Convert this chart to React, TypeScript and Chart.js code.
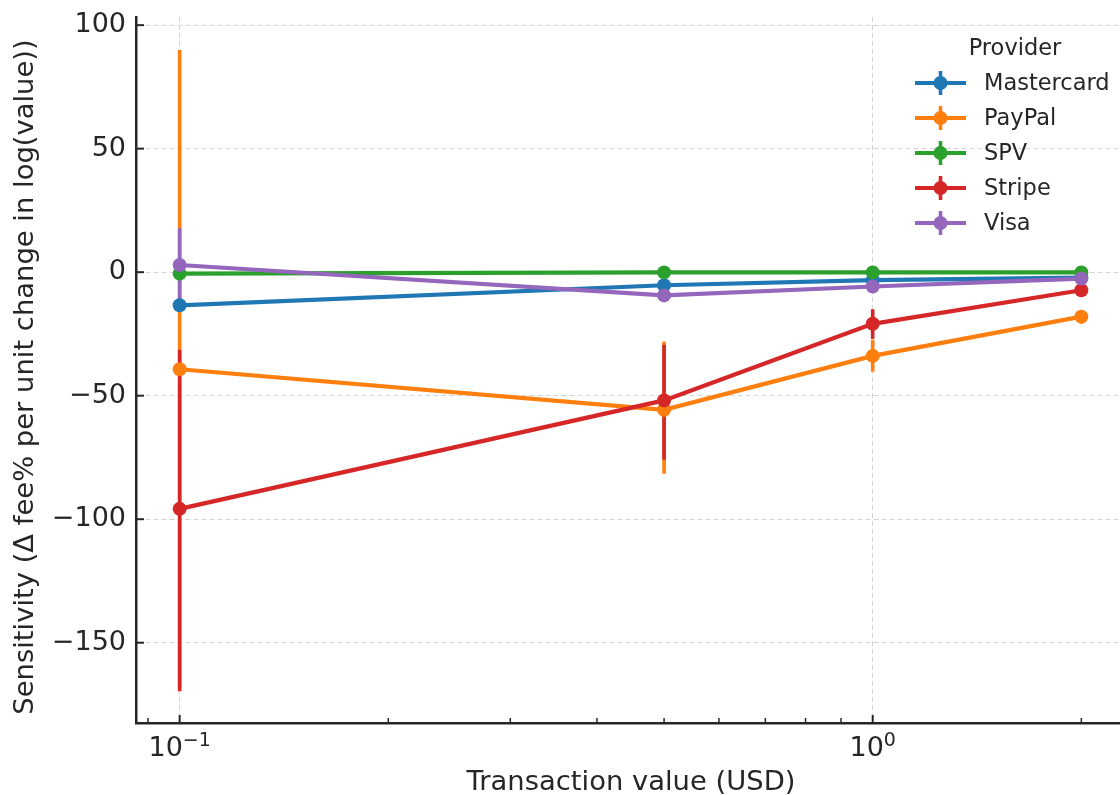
import React, { useEffect, useRef } from "react";
import { Chart, registerables } from "chart.js";

Chart.register(...registerables);

// ---- data ----
const xValues = [0.1, 0.5, 1, 2];
const providers = ["Mastercard", "PayPal", "SPV", "Stripe", "Visa"];
const colors = ["#1f77b4", "#ff7f0e", "#2ca02c", "#d62728", "#9467bd"];

const mastercard = [-13.4, -5.3, -3.2, -2.2];
const mastercardLow = [-14.4, -6.5, -4.0, -2.7];
const mastercardHigh = [-12.4, -4.1, -2.4, -1.7];

const paypal = [-39.3, -55.7, -33.9, -18.0];
const paypalLow = [-168.5, -81.6, -40.3, -20.8];
const paypalHigh = [89.9, -28.1, -27.4, -15.3];

const spv = [-0.6, -0.1, -0.1, -0.1];
const spvLow = [-1.1, -0.5, -0.5, -0.5];
const spvHigh = [-0.1, 0.3, 0.3, 0.3];

const stripe = [-95.8, -51.9, -20.9, -7.3];
const stripeLow = [-169.6, -75.9, -27.0, -8.8];
const stripeHigh = [-31.4, -29.4, -15.0, -5.9];

const visa = [2.9, -9.4, -5.8, -2.6];
const visaLow = [-15.5, -11.0, -7.0, -3.4];
const visaHigh = [17.8, -8.0, -4.6, -1.9];

const seriesValues = [mastercard, paypal, spv, stripe, visa];
const seriesLow = [mastercardLow, paypalLow, spvLow, stripeLow, visaLow];
const seriesHigh = [mastercardHigh, paypalHigh, spvHigh, stripeHigh, visaHigh];

const xTickValues = [0.09, 0.1, 0.2, 0.3, 0.4, 0.5, 0.6, 0.7, 0.8, 0.9, 1, 2];
const xMajorTicks = [0.1, 1];
const xMajorBase = ["10", "10"];
const xMajorExp = ["\u22121", "0"];
const yTickValues = [-150, -100, -50, 0, 50, 100];

const xTitle = "Transaction value (USD)";
const yTitle = "Sensitivity (\u0394 fee% per unit change in log(value))";
const legendTitle = "Provider";

const FONT = "'DejaVu Sans', sans-serif";
const TEXT = "#262626";

const isMajorX = (v: number) => xMajorTicks.some((m) => Math.abs(m - v) < 1e-9);

const errorBarPlugin = {
  id: "errorBars",
  beforeDatasetsDraw(chart: any) {
    const { ctx, chartArea, scales } = chart;
    const x = scales.x;
    const y = scales.y;
    ctx.save();
    ctx.beginPath();
    ctx.rect(chartArea.left, chartArea.top, chartArea.right - chartArea.left, chartArea.bottom - chartArea.top);
    ctx.clip();
    providers.forEach((_, si) => {
      ctx.strokeStyle = colors[si];
      ctx.lineWidth = 3.6;
      ctx.lineCap = "butt";
      xValues.forEach((xv, i) => {
        const px = x.getPixelForValue(xv);
        ctx.beginPath();
        ctx.moveTo(px, y.getPixelForValue(seriesLow[si][i]));
        ctx.lineTo(px, y.getPixelForValue(seriesHigh[si][i]));
        ctx.stroke();
      });
    });
    ctx.restore();
  },
};

const tickMarkPlugin = {
  id: "inwardTicks",
  afterDraw(chart: any) {
    const { ctx, chartArea, scales } = chart;
    const x = scales.x;
    const y = scales.y;
    ctx.save();
    ctx.strokeStyle = "#262626";
    ctx.lineCap = "butt";
    x.ticks.forEach((t: any) => {
      const px = x.getPixelForValue(t.value);
      const major = isMajorX(t.value);
      ctx.lineWidth = major ? 2 : 1.5;
      ctx.beginPath();
      ctx.moveTo(px, chartArea.bottom);
      ctx.lineTo(px, chartArea.bottom - (major ? 8 : 5));
      ctx.stroke();
    });
    y.ticks.forEach((t: any) => {
      const py = y.getPixelForValue(t.value);
      ctx.lineWidth = 2;
      ctx.beginPath();
      ctx.moveTo(chartArea.left, py);
      ctx.lineTo(chartArea.left + 8, py);
      ctx.stroke();
    });
    // x major tick labels with superscript exponent
    ctx.fillStyle = TEXT;
    ctx.textBaseline = "alphabetic";
    xMajorTicks.forEach((v, i) => {
      const px = x.getPixelForValue(v);
      ctx.font = `27px ${FONT}`;
      const wb = ctx.measureText(xMajorBase[i]).width;
      ctx.font = `19px ${FONT}`;
      const we = ctx.measureText(xMajorExp[i]).width;
      const start = px - (wb + we) / 2;
      const baseY = chartArea.bottom + 33;
      ctx.textAlign = "left";
      ctx.font = `27px ${FONT}`;
      ctx.fillText(xMajorBase[i], start, baseY);
      ctx.font = `19px ${FONT}`;
      ctx.fillText(xMajorExp[i], start + wb, baseY - 10);
    });
    // y axis title
    ctx.save();
    ctx.translate(26, 377);
    ctx.rotate(-Math.PI / 2);
    ctx.font = `27.4px ${FONT}`;
    ctx.textAlign = "center";
    ctx.textBaseline = "middle";
    ctx.fillText(yTitle, 0, 0);
    ctx.restore();
    ctx.restore();
  },
};

const legendPlugin = {
  id: "customLegend",
  afterDraw(chart: any) {
    const { ctx } = chart;
    ctx.save();
    ctx.fillStyle = TEXT;
    ctx.font = `22.5px ${FONT}`;
    ctx.textAlign = "center";
    ctx.textBaseline = "middle";
    ctx.fillText(legendTitle, 1015, 49);
    providers.forEach((name, i) => {
      const cy = 83 + i * 35;
      ctx.strokeStyle = colors[i];
      ctx.lineWidth = 4;
      ctx.beginPath();
      ctx.moveTo(915, cy);
      ctx.lineTo(966, cy);
      ctx.stroke();
      ctx.lineWidth = 3.6;
      ctx.beginPath();
      ctx.moveTo(940.5, cy - 12);
      ctx.lineTo(940.5, cy + 12);
      ctx.stroke();
      ctx.fillStyle = colors[i];
      ctx.beginPath();
      ctx.arc(940.5, cy, 7, 0, Math.PI * 2);
      ctx.fill();
      ctx.fillStyle = TEXT;
      ctx.textAlign = "left";
      ctx.fillText(name, 984, cy + 1);
    });
    ctx.restore();
  },
};

export default function App() {
  const canvasRef = useRef<HTMLCanvasElement | null>(null);

  useEffect(() => {
    if (!canvasRef.current) return;
    const datasets = providers.map((name, si) => ({
      label: name,
      data: xValues.map((xv, i) => ({ x: xv, y: seriesValues[si][i] })),
      borderColor: colors[si],
      backgroundColor: colors[si],
      borderWidth: 4.2,
      pointRadius: 7,
      pointBorderWidth: 0,
      pointBackgroundColor: colors[si],
      tension: 0,
      order: providers.length - si,
    }));

    const chart = new Chart(canvasRef.current, {
      type: "line",
      data: { datasets },
      plugins: [errorBarPlugin, tickMarkPlugin, legendPlugin],
      options: {
        animation: false,
        responsive: false,
        devicePixelRatio: 1,
        layout: { padding: { top: 17, left: 0, right: 0, bottom: 0 } },
        plugins: { legend: { display: false }, tooltip: { enabled: false } },
        scales: {
          x: {
            type: "logarithmic",
            min: 0.0865,
            max: 2.32,
            afterBuildTicks: (scale: any) => {
              scale.ticks = xTickValues.map((v) => ({ value: v, major: isMajorX(v) }));
            },
            afterFit: (scale: any) => {
              scale.height = 72;
              scale.paddingLeft = 0;
              scale.paddingRight = 0;
            },
            ticks: {
              autoSkip: false,
              maxRotation: 0,
              padding: 6,
              color: TEXT,
              font: { family: FONT, size: 27 },
              callback: () => "",
            },
            grid: {
              drawTicks: false,
              lineWidth: 1,
              color: (c: any) => (c.tick && isMajorX(c.tick.value) ? "#d4d4d4" : "rgba(0,0,0,0)"),
            },
            border: { display: true, color: "#262626", width: 2.5, dash: [5, 3] },
            title: {
              display: true,
              text: xTitle,
              color: TEXT,
              font: { family: FONT, size: 27.4, lineHeight: 0.9 },
              padding: { top: 0, bottom: 0 },
            },
          },
          y: {
            type: "linear",
            min: -182.5,
            max: 103.3,
            afterBuildTicks: (scale: any) => {
              scale.ticks = yTickValues.map((v) => ({ value: v }));
            },
            afterFit: (scale: any) => {
              scale.width = 136;
              scale.paddingTop = 0;
              scale.paddingBottom = 0;
            },
            ticks: {
              padding: 10,
              color: TEXT,
              font: { family: FONT, size: 27 },
              callback: (value: any) => {
                const v = Number(value);
                return v < 0 ? "\u2212" + Math.abs(v) : String(v);
              },
            },
            grid: { drawTicks: false, lineWidth: 1, color: "#d4d4d4" },
            border: { display: true, color: "#262626", width: 2.5, dash: [5, 3] },
            title: { display: false },
          },
        },
      },
    });
    return () => chart.destroy();
  }, []);

  return (
    <div style={{ position: "absolute", left: 0, top: 0, width: 1120, height: 795, overflow: "hidden", background: "#fff" }}>
      <canvas ref={canvasRef} width={1133} height={795} style={{ display: "block", width: 1133, height: 795 }} />
    </div>
  );
}
